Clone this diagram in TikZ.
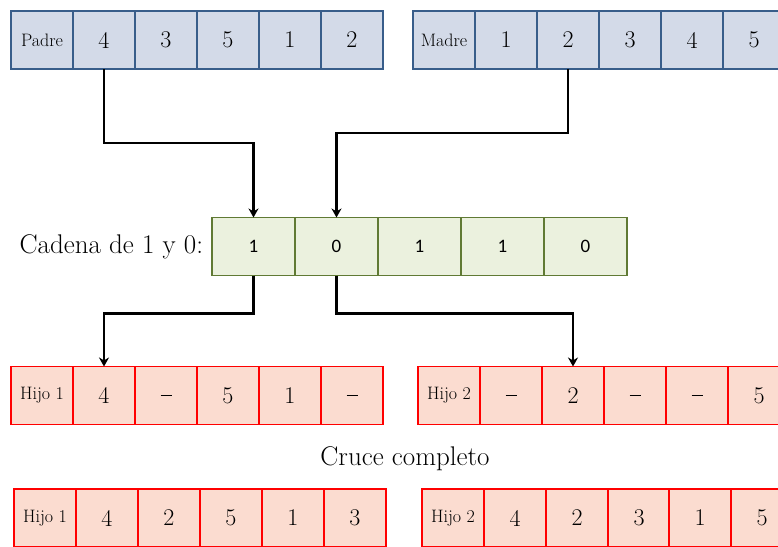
\documentclass[tikz,border=0pt]{standalone}
\usepackage{fontspec}
\newfontfamily\bitfont{Carlito}
\usetikzlibrary{arrows.meta}
\definecolor{padreFill}{RGB}{211,218,232}
\definecolor{padreLine}{RGB}{56,93,138}
\definecolor{cadenaFill}{RGB}{235,241,222}
\definecolor{cadenaLine}{RGB}{96,122,52}
\definecolor{hijoFill}{RGB}{251,220,208}
\definecolor{hijoLine}{RGB}{255,0,0}
\newcommand{\hueco}{\rule{11pt}{1.4pt}}
\begin{document}
\begin{tikzpicture}[
  x=1pt, y=-1pt,
  every node/.style={inner sep=0pt, outer sep=0pt},
  gene/.style={draw, line width=1.3pt, minimum width=62pt, minimum height=58pt, font=\fontsize{24}{24}\selectfont},
  tag/.style={gene, font=\fontsize{18}{18}\selectfont},
  padre/.style={draw=padreLine, fill=padreFill},
  hijo/.style={draw=hijoLine, fill=hijoFill},
  cadena/.style={draw=cadenaLine, fill=cadenaFill, line width=1.2pt, minimum width=83pt, minimum height=58pt, font=\bitfont\fontsize{19}{19}\selectfont},
  title/.style={font=\fontsize{27}{27}\selectfont},
  link/.style={-{Stealth[length=9pt,width=10pt]}, line width=2.2pt}]

\useasboundingbox (0,0) rectangle (778,546);

\node[tag, padre]  (pa0) at (42,40)  {Padre};
\node[gene, padre] (pa1) at (104,40) {4};
\node[gene, padre] (pa2) at (166,40) {3};
\node[gene, padre] (pa3) at (228,40) {5};
\node[gene, padre] (pa4) at (290,40) {1};
\node[gene, padre] (pa5) at (352,40) {2};

\node[tag, padre]  (ma0) at (444,40) {Madre};
\node[gene, padre] (ma1) at (506,40) {1};
\node[gene, padre] (ma2) at (568,40) {2};
\node[gene, padre] (ma3) at (630,40) {3};
\node[gene, padre] (ma4) at (692,40) {4};
\node[gene, padre] (ma5) at (754,40) {5};

\node[title, anchor=east] (cad) at (203,247) {Cadena de 1 y 0:};
\node[cadena] (cb1) at (253.5,246.5) {1};
\node[cadena] (cb2) at (336.5,246.5) {0};
\node[cadena] (cb3) at (419.5,246.5) {1};
\node[cadena] (cb4) at (502.5,246.5) {1};
\node[cadena] (cb5) at (585.5,246.5) {0};

\node[tag, hijo]  (ha0) at (42,395.5)  {Hijo 1};
\node[gene, hijo] (ha1) at (104,395.5) {4};
\node[gene, hijo] (ha2) at (166,395.5) {\hueco};
\node[gene, hijo] (ha3) at (228,395.5) {5};
\node[gene, hijo] (ha4) at (290,395.5) {1};
\node[gene, hijo] (ha5) at (352,395.5) {\hueco};

\node[tag, hijo]  (hb0) at (449,395.5) {Hijo 2};
\node[gene, hijo] (hb1) at (511,395.5) {\hueco};
\node[gene, hijo] (hb2) at (573,395.5) {2};
\node[gene, hijo] (hb3) at (635,395.5) {\hueco};
\node[gene, hijo] (hb4) at (697,395.5) {\hueco};
\node[gene, hijo] (hb5) at (759,395.5) {5};

\node[title] (cru) at (405,459) {Cruce completo};

\node[tag, hijo]  (fa0) at (45,518)  {Hijo 1};
\node[gene, hijo] (fa1) at (107,518) {4};
\node[gene, hijo] (fa2) at (169,518) {2};
\node[gene, hijo] (fa3) at (231,518) {5};
\node[gene, hijo] (fa4) at (293,518) {1};
\node[gene, hijo] (fa5) at (355,518) {3};

\node[tag, hijo]  (fb0) at (453,518) {Hijo 2};
\node[gene, hijo] (fb1) at (515,518) {4};
\node[gene, hijo] (fb2) at (577,518) {2};
\node[gene, hijo] (fb3) at (639,518) {3};
\node[gene, hijo] (fb4) at (700,518) {1};
\node[gene, hijo] (fb5) at (762,518) {5};

\draw[link] (pa1.south) -- ++(0,74) -| (cb1.north);
\draw[link] (ma2.south) -- ++(0,64) -| (cb2.north);
\draw[link] (cb1.south) -- ++(0,38) -| (ha1.north);
\draw[link] (cb2.south) -- ++(0,38) -| (hb2.north);
\end{tikzpicture}
\end{document}
